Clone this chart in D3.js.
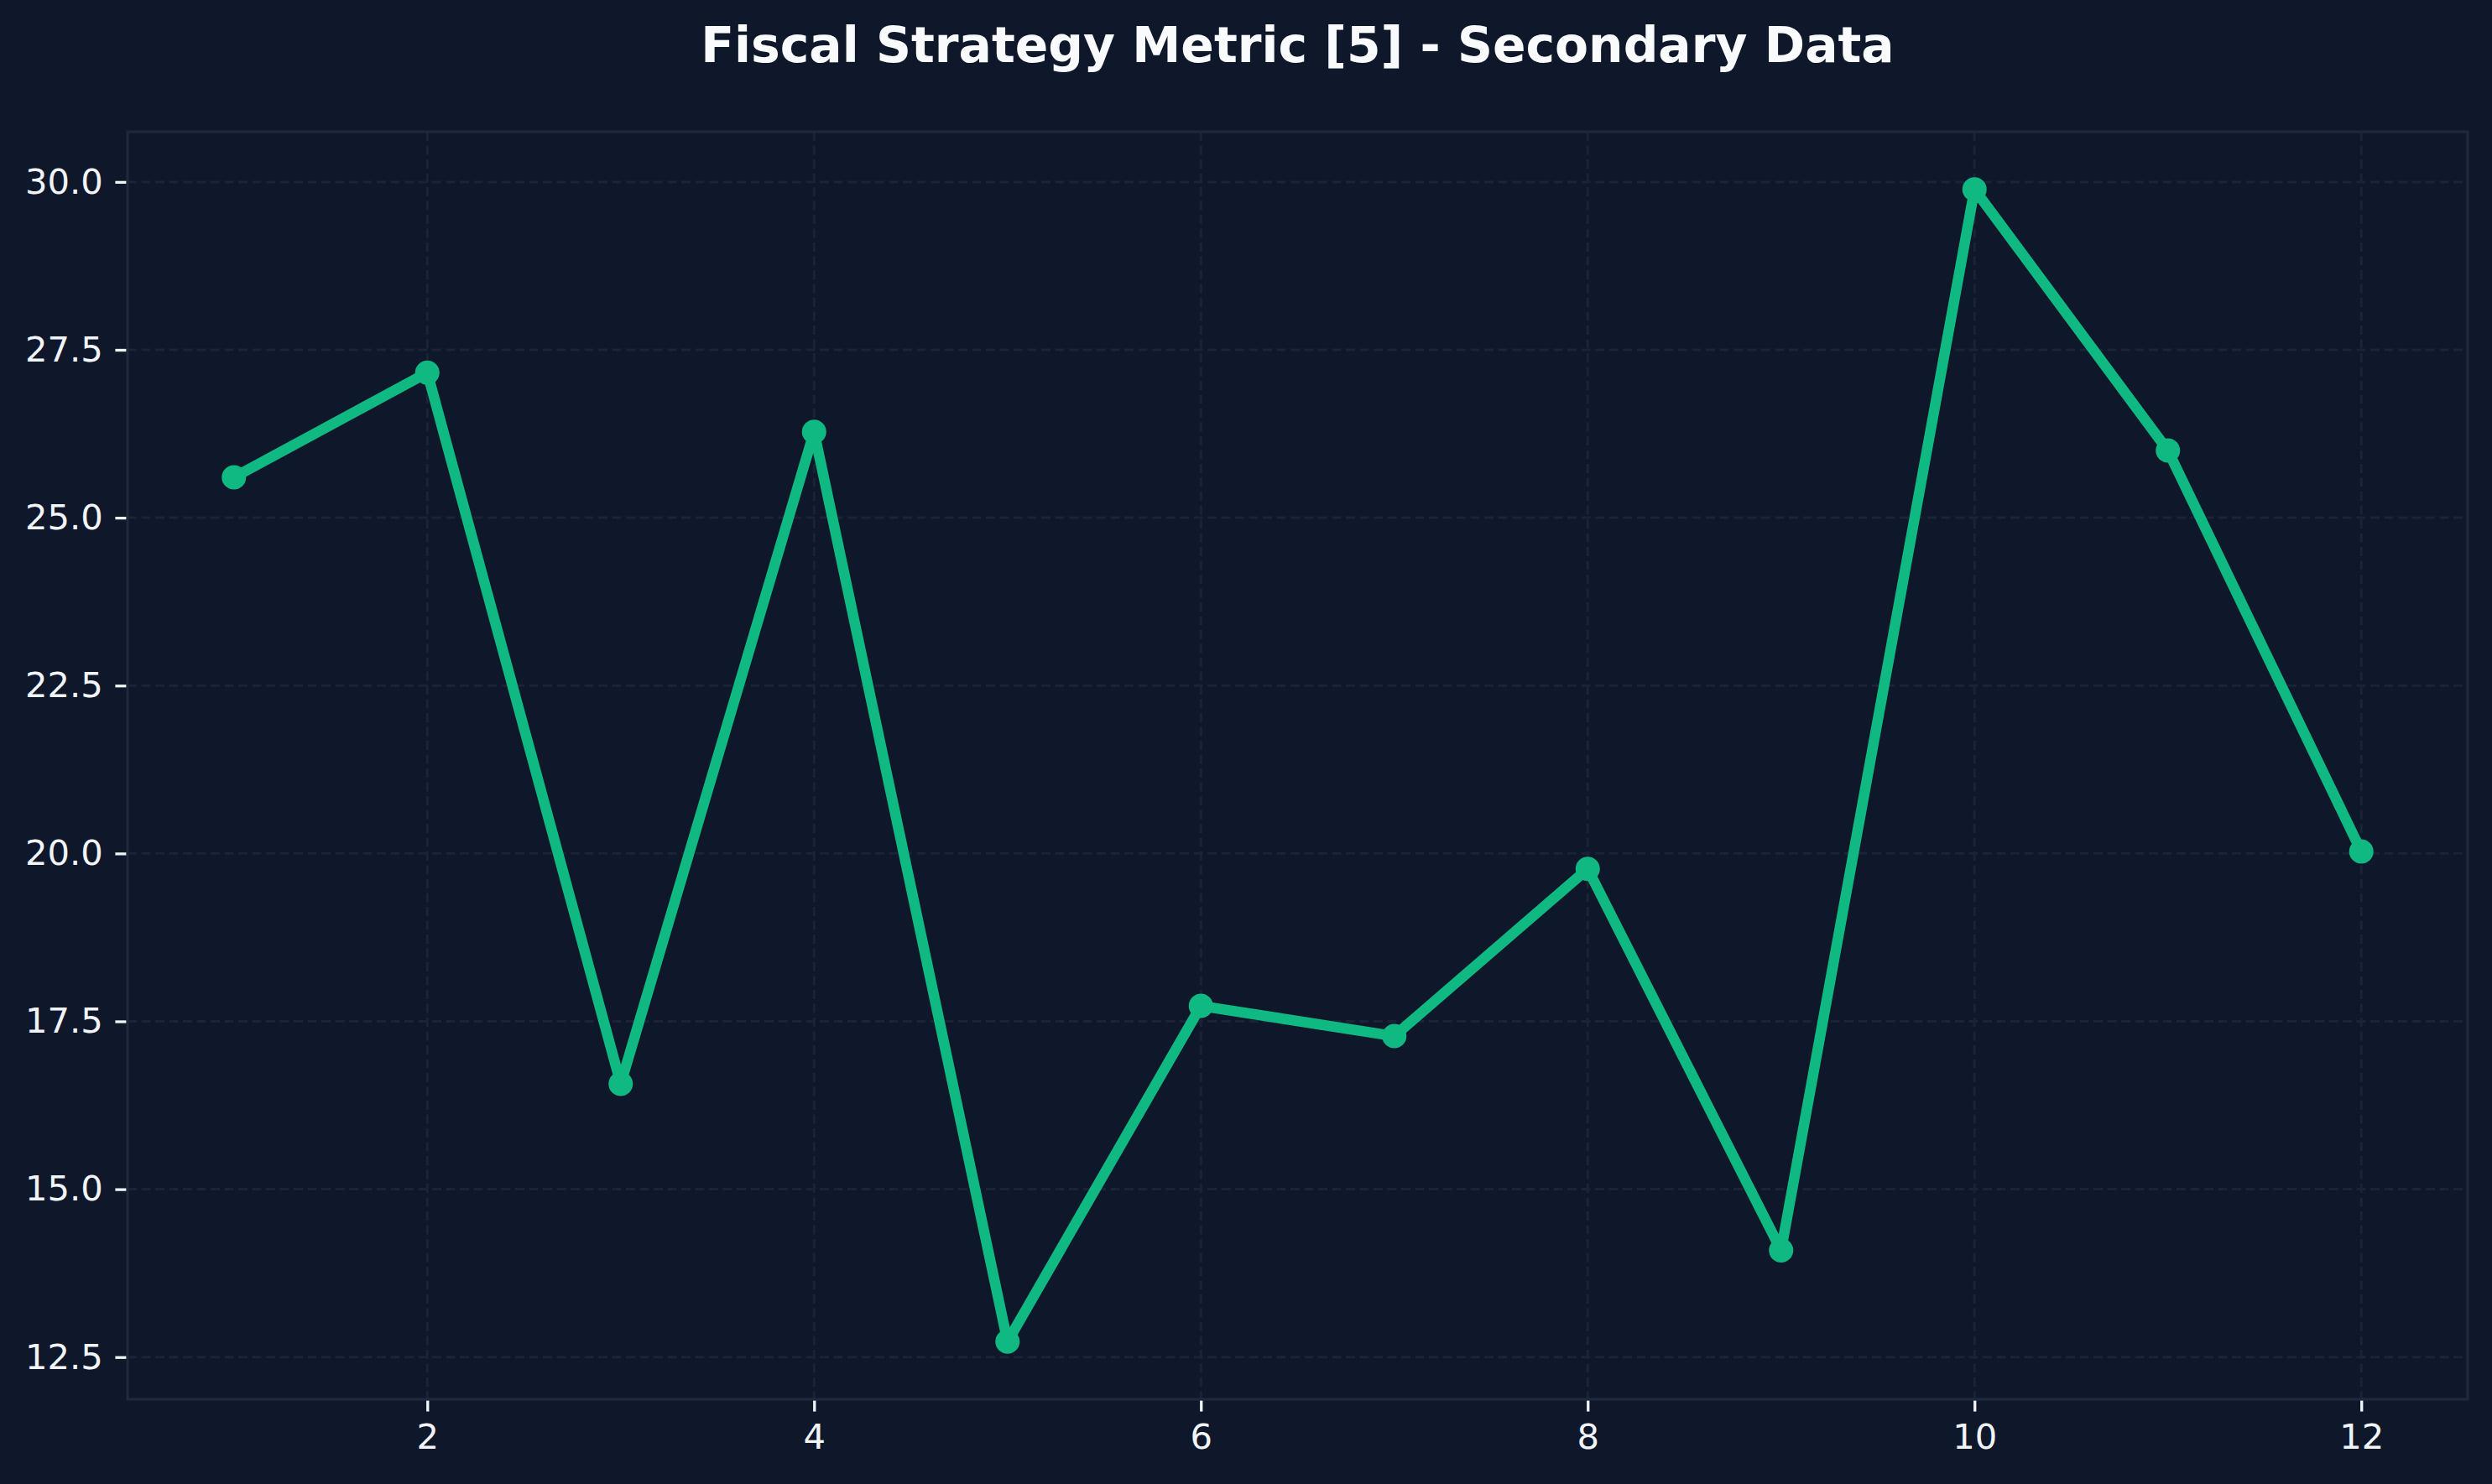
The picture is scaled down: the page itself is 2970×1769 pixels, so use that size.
<!DOCTYPE html>
<html>
<head>
<meta charset="utf-8">
<script src="https://cdn.jsdelivr.net/npm/d3@7/dist/d3.min.js"></script>
<style>
	html, body { margin: 0; padding: 0; background: #0f172a; }
	svg { display: block; }
</style>
</head>
<body>
<svg id="chart"></svg>
<script>
const title = 'Fiscal Strategy Metric [5] - Secondary Data';

// x positions and values
const xs = [1, 2, 3, 4, 5, 6, 7, 8, 9, 10, 11, 12];
const values = [25.60, 27.16, 16.57, 26.28, 12.73, 17.73, 17.28, 19.77, 14.09, 29.89, 26.0, 20.03];

const xTicks = [2, 4, 6, 8, 10, 12];
const yTicks = [12.5, 15.0, 17.5, 20.0, 22.5, 25.0, 27.5, 30.0];

const width = 2970, height = 1769;
const margin = { top: 157, right: 29, bottom: 101, left: 152 };

const svg = d3.select('#chart')
	.attr('width', width)
	.attr('height', height)
	.style('font-family', '"DejaVu Sans", sans-serif');

svg.append('rect')
	.attr('width', width)
	.attr('height', height)
	.attr('fill', '#0f172a');

// matplotlib style 5% padding on both axes
const xPad = (d3.max(xs) - d3.min(xs)) * 0.05;
const yPad = (d3.max(values) - d3.min(values)) * 0.05;

const x = d3.scaleLinear()
	.domain([d3.min(xs) - xPad, d3.max(xs) + xPad])
	.range([margin.left, width - margin.right]);

const y = d3.scaleLinear()
	.domain([d3.min(values) - yPad, d3.max(values) + yPad])
	.range([height - margin.bottom, margin.top]);

// grid
const grid = svg.append('g')
	.attr('stroke', '#1b2436')
	.attr('stroke-width', 3)
	.attr('stroke-dasharray', '11,5.5');

grid.selectAll('line.h')
	.data(yTicks)
	.join('line')
	.attr('class', 'h')
	.attr('x1', margin.left)
	.attr('x2', width - margin.right)
	.attr('y1', d => y(d))
	.attr('y2', d => y(d));

grid.selectAll('line.v')
	.data(xTicks)
	.join('line')
	.attr('class', 'v')
	.attr('y1', margin.top)
	.attr('y2', height - margin.bottom)
	.attr('x1', d => x(d))
	.attr('x2', d => x(d));

// axes
const xAxis = svg.append('g')
	.attr('transform', `translate(0,${height - margin.bottom})`)
	.call(d3.axisBottom(x).tickValues(xTicks).tickFormat(d3.format('d')).tickSize(14.6).tickPadding(14.6));

const yAxis = svg.append('g')
	.attr('transform', `translate(${margin.left},0)`)
	.call(d3.axisLeft(y).tickValues(yTicks).tickFormat(d3.format('.1f')).tickSize(14.6).tickPadding(14.6));

[xAxis, yAxis].forEach(a => {
	a.select('.domain').remove();
	a.selectAll('.tick line').attr('stroke', '#f1f5f9').attr('stroke-width', 3.3);
	a.selectAll('.tick text')
		.attr('fill', '#f1f5f9')
		.style('font-size', '41.7px')
		.style('font-family', '"DejaVu Sans", sans-serif');
});

// frame
svg.append('rect')
	.attr('x', margin.left)
	.attr('y', margin.top)
	.attr('width', width - margin.left - margin.right)
	.attr('height', height - margin.top - margin.bottom)
	.attr('fill', 'none')
	.attr('stroke', '#1e293b')
	.attr('stroke-width', 3.3);

// line
const line = d3.line()
	.x((d, i) => x(xs[i]))
	.y(d => y(d));

svg.append('path')
	.datum(values)
	.attr('d', line)
	.attr('fill', 'none')
	.attr('stroke', '#10b981')
	.attr('stroke-width', 12.5)
	.attr('stroke-linejoin', 'round')
	.attr('stroke-linecap', 'round');

svg.append('g')
	.selectAll('circle')
	.data(values)
	.join('circle')
	.attr('cx', (d, i) => x(xs[i]))
	.attr('cy', d => y(d))
	.attr('r', 14.5)
	.attr('fill', '#10b981');

// title
svg.append('text')
	.attr('x', (margin.left + width - margin.right) / 2)
	.attr('y', 74)
	.attr('text-anchor', 'middle')
	.attr('fill', '#f8fafc')
	.style('font-size', '58.3px')
	.style('font-weight', 'bold')
	.text(title);
</script>
</body>
</html>
